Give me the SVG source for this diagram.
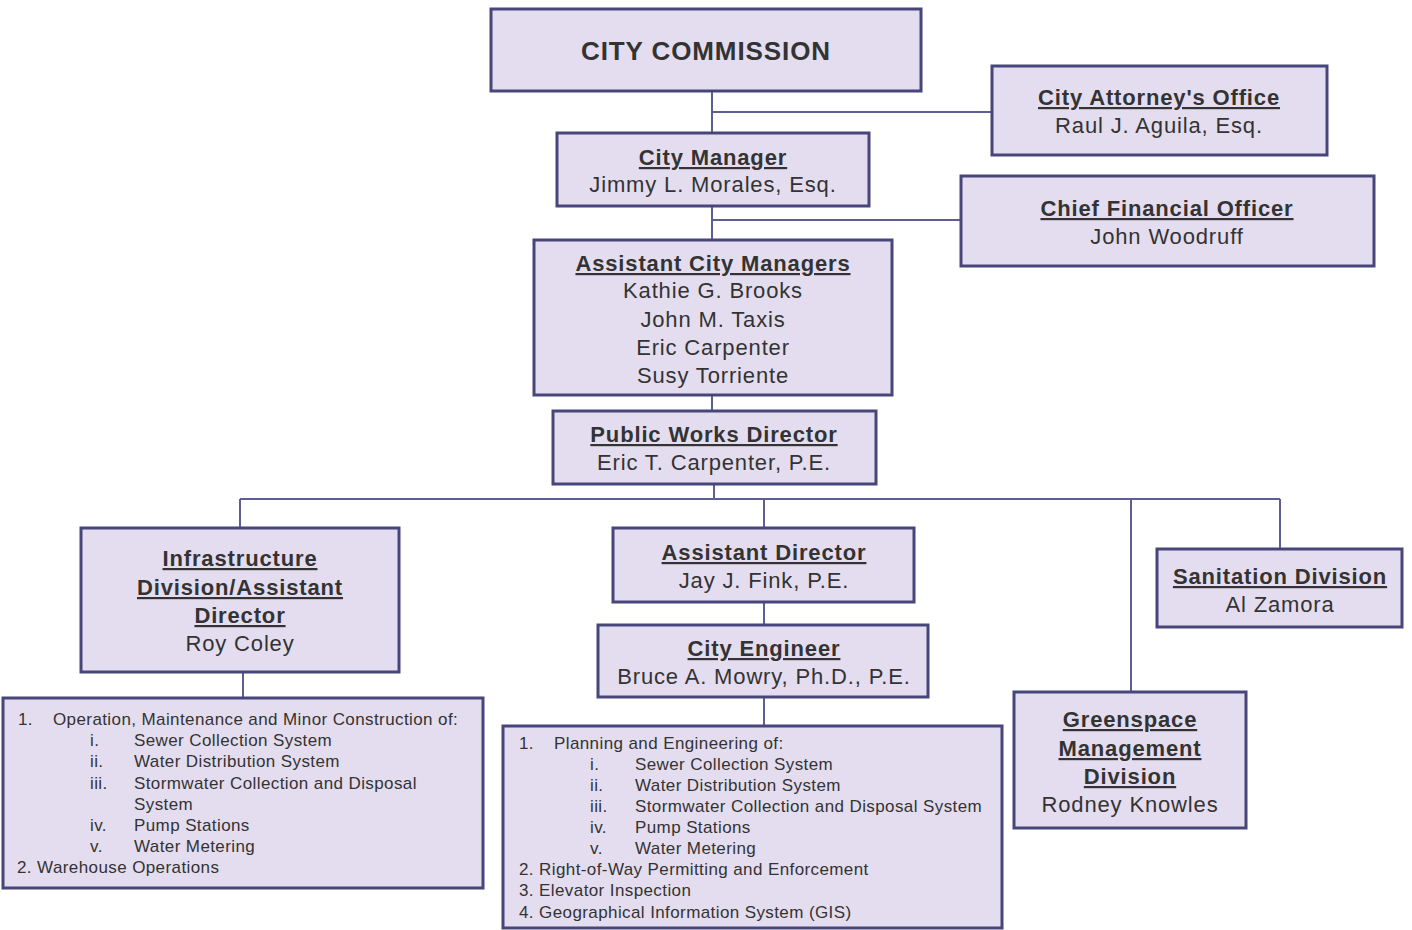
<svg xmlns="http://www.w3.org/2000/svg" width="1412" height="930" viewBox="0 0 1412 930">
<style>
.box{fill:#e4ddef;stroke:#46467a;stroke-width:3}
.t{font-family:"Liberation Sans",Arial,sans-serif;font-size:22px;letter-spacing:0.85px;fill:#333;text-anchor:middle}
.b{font-weight:bold;text-decoration:underline}
.l{font-family:"Liberation Sans",Arial,sans-serif;font-size:17px;letter-spacing:0.4px;fill:#333}
.c{stroke:#5e5e92;stroke-width:2;fill:none}
</style>
<rect width="1412" height="930" fill="#fff"/>
<g id="connectors">
<path class="c" d="M712 91V133M712 112H992M712 206V240M712 220H961M712 395V411M714 484V499M240 499H1280M240 499V528M764 499V528M1131 499V692M1280 499V549M764 602V625M764 697V726M243 672V698"/>
</g>
<g id="city-commission">
<rect class="box" x="491" y="9" width="430" height="82"/>
<text class="t" x="706" y="60" style="font-size:26px;font-weight:bold;letter-spacing:0.9px">CITY COMMISSION</text>
</g>
<g id="city-attorney">
<rect class="box" x="992" y="66" width="335" height="89"/>
<text class="t b" x="1159" y="105">City Attorney's Office</text>
<text class="t" x="1159" y="133">Raul J. Aguila, Esq.</text>
</g>
<g id="city-manager">
<rect class="box" x="557" y="133" width="312" height="73"/>
<text class="t b" x="713" y="165">City Manager</text>
<text class="t" x="713" y="192">Jimmy L. Morales, Esq.</text>
</g>
<g id="cfo">
<rect class="box" x="961" y="176" width="413" height="90"/>
<text class="t b" x="1167" y="216">Chief Financial Officer</text>
<text class="t" x="1167" y="244">John Woodruff</text>
</g>
<g id="assistant-city-managers">
<rect class="box" x="534" y="240" width="358" height="155"/>
<text class="t b" x="713" y="271">Assistant City Managers</text>
<text class="t" x="713" y="298">Kathie G. Brooks</text>
<text class="t" x="713" y="327">John M. Taxis</text>
<text class="t" x="713" y="355">Eric Carpenter</text>
<text class="t" x="713" y="383">Susy Torriente</text>
</g>
<g id="public-works-director">
<rect class="box" x="553" y="411" width="323" height="73"/>
<text class="t b" x="714" y="442">Public Works Director</text>
<text class="t" x="714" y="470">Eric T. Carpenter, P.E.</text>
</g>
<g id="infrastructure">
<rect class="box" x="81" y="528" width="318" height="144"/>
<text class="t b" x="240" y="566">Infrastructure</text>
<text class="t b" x="240" y="595">Division/Assistant</text>
<text class="t b" x="240" y="623">Director</text>
<text class="t" x="240" y="651">Roy Coley</text>
</g>
<g id="assistant-director">
<rect class="box" x="613" y="528" width="301" height="74"/>
<text class="t b" x="764" y="560">Assistant Director</text>
<text class="t" x="764" y="588">Jay J. Fink, P.E.</text>
</g>
<g id="sanitation">
<rect class="box" x="1157" y="549" width="245" height="78"/>
<text class="t b" x="1280" y="584">Sanitation Division</text>
<text class="t" x="1280" y="612">Al Zamora</text>
</g>
<g id="city-engineer">
<rect class="box" x="598" y="625" width="330" height="72"/>
<text class="t b" x="764" y="656">City Engineer</text>
<text class="t" x="764" y="684">Bruce A. Mowry, Ph.D., P.E.</text>
</g>
<g id="greenspace">
<rect class="box" x="1014" y="692" width="232" height="136"/>
<text class="t b" x="1130" y="727">Greenspace</text>
<text class="t b" x="1130" y="756">Management</text>
<text class="t b" x="1130" y="784">Division</text>
<text class="t" x="1130" y="812">Rodney Knowles</text>
</g>
<g id="infrastructure-duties">
<rect class="box" x="3" y="698" width="480" height="190"/>
<text class="l" x="18" y="725">1.</text>
<text class="l" x="53" y="725">Operation, Maintenance and Minor Construction of:</text>
<text class="l" x="90" y="746">i.</text><text class="l" x="134" y="746">Sewer Collection System</text>
<text class="l" x="90" y="767">ii.</text><text class="l" x="134" y="767">Water Distribution System</text>
<text class="l" x="90" y="789">iii.</text><text class="l" x="134" y="789">Stormwater Collection and Disposal</text>
<text class="l" x="134" y="810">System</text>
<text class="l" x="90" y="831">iv.</text><text class="l" x="134" y="831">Pump Stations</text>
<text class="l" x="90" y="852">v.</text><text class="l" x="134" y="852">Water Metering</text>
<text class="l" x="17" y="873">2. Warehouse Operations</text>
</g>
<g id="engineering-duties">
<rect class="box" x="503" y="726" width="499" height="202"/>
<text class="l" x="519" y="749">1.</text>
<text class="l" x="554" y="749">Planning and Engineering of:</text>
<text class="l" x="590" y="770">i.</text><text class="l" x="635" y="770">Sewer Collection System</text>
<text class="l" x="590" y="791">ii.</text><text class="l" x="635" y="791">Water Distribution System</text>
<text class="l" x="590" y="812">iii.</text><text class="l" x="635" y="812">Stormwater Collection and Disposal System</text>
<text class="l" x="590" y="833">iv.</text><text class="l" x="635" y="833">Pump Stations</text>
<text class="l" x="590" y="854">v.</text><text class="l" x="635" y="854">Water Metering</text>
<text class="l" x="519" y="875">2. Right-of-Way Permitting and Enforcement</text>
<text class="l" x="519" y="896">3. Elevator Inspection</text>
<text class="l" x="519" y="918">4. Geographical Information System (GIS)</text>
</g>
</svg>
